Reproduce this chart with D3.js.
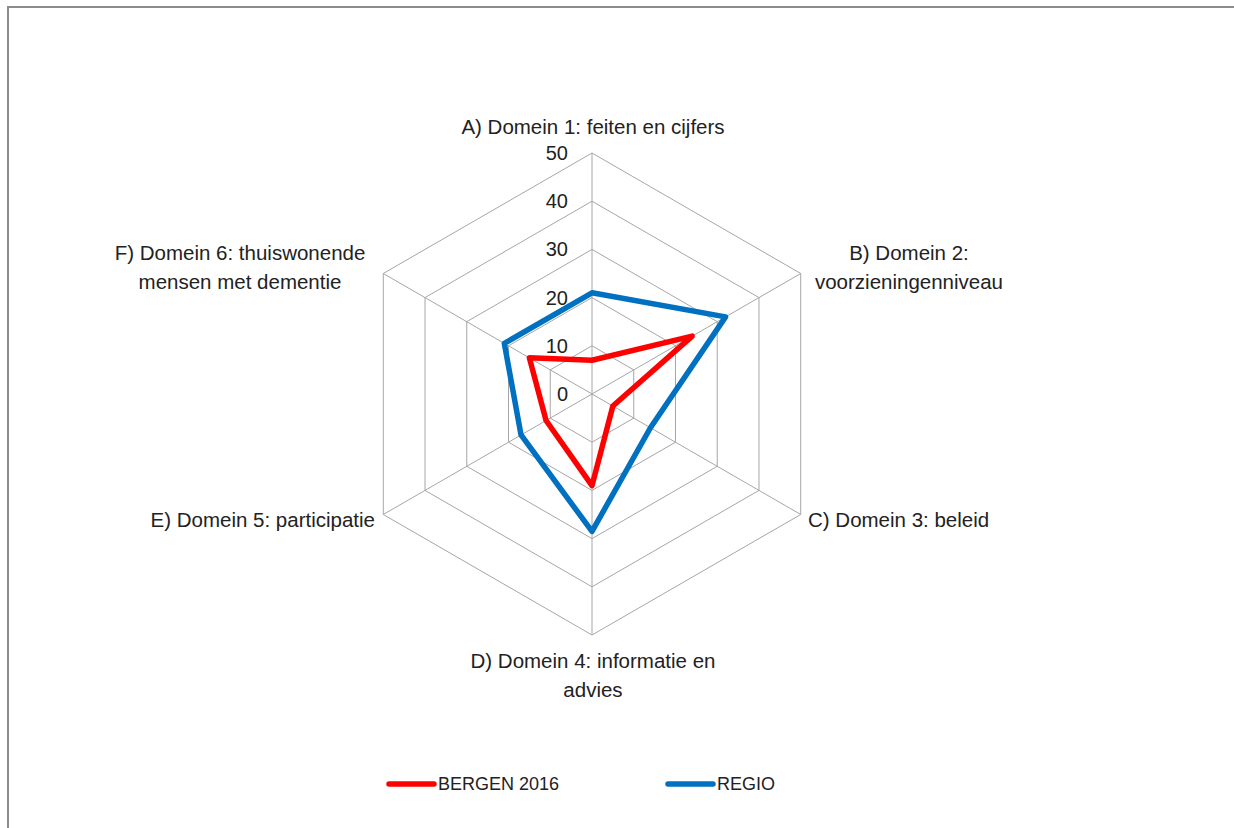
<!DOCTYPE html>
<html>
<head>
<meta charset="utf-8">
<style>
  body { margin: 0; background: #fff; }
  svg { display: block; }
  .chart text { font-family: "Liberation Sans", Arial, sans-serif; fill: #222; }
  .grid line, .grid polygon { stroke: #a6a6a6; stroke-width: 1; fill: none; }
</style>
</head>
<body>
<svg class="chart" width="1234" height="828"></svg>
<script src="https://d3js.org/d3.v7.min.js"></script>
<script>
// axis labels (one line per array item)
var categories = [
  ['A) Domein 1: feiten en cijfers'],
  ['B) Domein 2:', 'voorzieningenniveau'],
  ['C) Domein 3: beleid'],
  ['D) Domein 4: informatie en', 'advies'],
  ['E) Domein 5: participatie'],
  ['F) Domein 6: thuiswonende', 'mensen met dementie']
];
var bergen = [7, 24, 5, 19, 11, 15];
var regio = [21, 32, 14, 28.5, 17, 21];
var ticks = [0, 10, 20, 30, 40, 50];
var seriesNames = ['BERGEN 2016', 'REGIO'];
var seriesColors = ['#ff0000', '#0070c0'];

var cx = 592, cy = 394, radius = 241;

var svg = d3.select('svg');

// outer frame (only top and left edges fall inside the picture)
svg.append('path')
  .attr('d', 'M8,900 V7 H1240')
  .attr('fill', 'none').attr('stroke', '#8c8c8c').attr('stroke-width', 2);

var r = d3.scaleLinear().domain([0, 50]).range([0, radius]);
var angle = d3.scaleLinear().domain([0, categories.length]).range([0, 2 * Math.PI]);

function pt(i, v) {
  var a = angle(i);
  return [cx + r(v) * Math.sin(a), cy - r(v) * Math.cos(a)];
}

var g = svg.append('g');
var grid = g.append('g').attr('class', 'grid');

// rings
ticks.slice(1).forEach(function(t) {
  grid.append('polygon')
    .attr('points', categories.map(function(c, i) { return pt(i, t).join(','); }).join(' '));
});
// spokes
categories.forEach(function(c, i) {
  var p = pt(i, 50);
  grid.append('line').attr('x1', cx).attr('y1', cy).attr('x2', p[0]).attr('y2', p[1]);
});

// tick labels
g.selectAll('.tick')
  .data(ticks)
  .enter().append('text')
  .attr('class', 'tick')
  .attr('x', cx - 24)
  .attr('y', function(d) { return cy - r(d); })
  .attr('dy', '0.35em')
  .attr('text-anchor', 'end')
  .style('font-size', '20px')
  .text(function(d) { return d; });

// series
var line = d3.line().curve(d3.curveLinearClosed);
[bergen, regio].forEach(function(vals, s) {
  g.append('path')
    .attr('d', line(vals.map(function(v, i) { return pt(i, v); })))
    .attr('fill', 'none')
    .attr('stroke', seriesColors[s])
    .attr('stroke-width', 5.5)
    .attr('stroke-linejoin', 'round');
});

// category labels
var labelPos = [
  { x: 593, y: 127, anchor: 'middle' },
  { x: 909, y: 253, anchor: 'middle' },
  { x: 808, y: 520, anchor: 'start' },
  { x: 593, y: 661, anchor: 'middle' },
  { x: 375, y: 520, anchor: 'end' },
  { x: 240, y: 253, anchor: 'middle' }
];
categories.forEach(function(lines, i) {
  var t = g.append('text')
    .attr('text-anchor', labelPos[i].anchor)
    .style('font-size', '20.5px');
  lines.forEach(function(l, k) {
    t.append('tspan')
      .attr('x', labelPos[i].x)
      .attr('y', labelPos[i].y + k * 28.5)
      .attr('dy', '0.35em')
      .text(l);
  });
});

// legend
var legendX = [387, 666];
seriesNames.forEach(function(name, s) {
  var lg = svg.append('g').attr('transform', 'translate(' + legendX[s] + ',784)');
  lg.append('line')
    .attr('x1', 2).attr('x2', 47).attr('y1', 0).attr('y2', 0)
    .attr('stroke', seriesColors[s]).attr('stroke-width', 5.5)
    .attr('stroke-linecap', 'round');
  lg.append('text')
    .attr('x', 51).attr('y', 0).attr('dy', '0.35em')
    .style('font-size', '18px')
    .text(name);
});
</script>
</body>
</html>
